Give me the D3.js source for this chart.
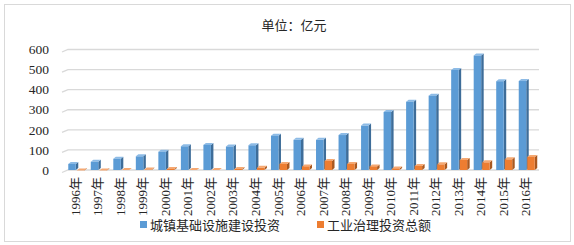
<!DOCTYPE html>
<html><head><meta charset="utf-8">
<script src="https://cdn.jsdelivr.net/npm/d3@7"></script>
<style>
html,body{margin:0;padding:0;background:#fff;}
text{font-family:"Liberation Serif","Noto Sans CJK SC",serif;fill:#262626;}
</style></head>
<body><svg id="c" width="574" height="245"></svg>
<script>
const years = ["1996年","1997年","1998年","1999年","2000年","2001年","2002年","2003年","2004年","2005年","2006年","2007年","2008年","2009年","2010年","2011年","2012年","2013年","2014年","2015年","2016年"];
const urbanInfra = [40,51,66,78,101,128,135,127,133,181,160,160,184,231,299,350,380,508,580,452,453];
const industrial = [8,8,10,12,15,10,10,15,21,40,28,55,40,28,18,30,38,60,48,63,75];
const yTicks = [0,100,200,300,400,500,600];
const seriesNames = ["城镇基础设施建设投资","工业治理投资总额"];
const title = "单位：亿元";

const svg = d3.select("#c");
svg.append("rect").attr("x",4.5).attr("y",4.5).attr("width",566).attr("height",237)
  .attr("fill","#fff").attr("stroke","#d9d9d9").attr("stroke-width",1);

const x = d3.scaleBand().domain(years).range([65,538]);
const y = d3.scaleLinear().domain([0,600]).range([170,49.5]);

// gridlines
yTicks.forEach(t=>{
  const yy = y(t);
  svg.append("path").attr("d",`M62,${yy+2.5}L68,${yy}L539,${yy}`)
    .attr("fill","none").attr("stroke","#d9d9d9").attr("stroke-width",1.3);
});
// y labels
svg.append("g").selectAll("text").data(yTicks).join("text")
  .attr("x",49).attr("y",d=>y(d)).attr("dy","0.35em").attr("text-anchor","end")
  .attr("font-size",13.5).text(d=>d);

// title
svg.append("text").attr("x",294).attr("y",30).attr("text-anchor","middle")
  .attr("font-size",13).text(title);

const bw = 7.5, dx = 2.5, dy = 2;
function bar3d(g, x0, v, front, side, top){
  const y0 = y(0), y1 = y(v) + dy;
  g.append("path").attr("d",`M${x0+bw},${y1}L${x0+bw+dx},${y1-dy}L${x0+bw+dx},${y0-dy}L${x0+bw},${y0}Z`).attr("fill",side);
  g.append("path").attr("d",`M${x0},${y1}L${x0+dx},${y1-dy}L${x0+bw+dx},${y1-dy}L${x0+bw},${y1}Z`).attr("fill",top);
  g.append("rect").attr("x",x0).attr("y",y1).attr("width",bw).attr("height",Math.max(0,y0-y1)).attr("fill",front);
}
const gb = svg.append("g");
years.forEach((yr,i)=>{
  const cx = x(yr) + x.bandwidth()/2;
  bar3d(gb, cx-bw-0.5, urbanInfra[i], "#5b9bd5", "#3e6d99", "#8dbbe6");
  bar3d(gb, cx+0.5, industrial[i], "#ed7d31", "#a9581f", "#f5a872");
});

// x labels
svg.append("g").selectAll("text").data(years).join("text")
  .attr("transform",d=>`translate(${x(d)+x.bandwidth()/2-1},177) rotate(-90)`)
  .attr("dy","0.35em").attr("text-anchor","end").attr("font-size",13).text(d=>d);

// legend
const leg = [[140,"#5b9bd5"],[317,"#ed7d31"]];
leg.forEach((l,i)=>{
  svg.append("rect").attr("x",l[0]).attr("y",221).attr("width",7).attr("height",7).attr("fill",l[1]);
  svg.append("text").attr("x",l[0]+10).attr("y",230).attr("font-size",13).text(seriesNames[i]);
});
</script></body></html>
